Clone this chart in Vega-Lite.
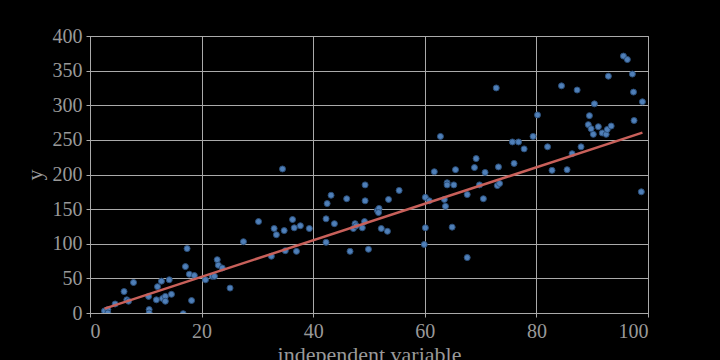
{
  "$schema": "https://vega.github.io/schema/vega-lite/v6.json",
  "width": 558,
  "height": 277,
  "autosize": {"type": "none"},
  "padding": {"left": 90, "top": 36, "right": 72, "bottom": 47},
  "background": "#000000",
  "config": {
    "view": {"stroke": "#aaaaaa", "strokeWidth": 1},
    "font": "Liberation Serif",
    "axis": {
      "labelFont": "Liberation Serif",
      "titleFont": "Liberation Serif",
      "labelFontSize": 20,
      "titleFontSize": 22,
      "labelColor": "#999999",
      "titleColor": "#999999",
      "titleFontWeight": "normal",
      "gridColor": "#aaaaaa",
      "gridWidth": 1,
      "domainColor": "#aaaaaa",
      "tickColor": "#aaaaaa",
      "tickSize": 4
    }
  },
  "datasets": {
    "pts": [
      {"x": 2.6, "y": 3}, {"x": 3.2, "y": 5}, {"x": 3.2, "y": 0}, {"x": 4.5, "y": 13},
      {"x": 6.1, "y": 31}, {"x": 6.6, "y": 19}, {"x": 6.9, "y": 17}, {"x": 7.8, "y": 44},
      {"x": 10.5, "y": 24}, {"x": 10.6, "y": 5}, {"x": 10.6, "y": 0}, {"x": 11.9, "y": 19},
      {"x": 12.1, "y": 38}, {"x": 12.8, "y": 46}, {"x": 13.0, "y": 21}, {"x": 13.5, "y": 24},
      {"x": 13.5, "y": 17}, {"x": 14.2, "y": 48}, {"x": 14.6, "y": 27}, {"x": 16.7, "y": -1},
      {"x": 17.1, "y": 67}, {"x": 17.4, "y": 93}, {"x": 17.8, "y": 56}, {"x": 18.2, "y": 18},
      {"x": 18.7, "y": 54}, {"x": 20.7, "y": 48}, {"x": 21.9, "y": 53}, {"x": 22.3, "y": 53},
      {"x": 22.8, "y": 77}, {"x": 23.0, "y": 69}, {"x": 23.7, "y": 65}, {"x": 25.1, "y": 36},
      {"x": 27.5, "y": 103}, {"x": 30.2, "y": 132}, {"x": 32.5, "y": 82}, {"x": 33.0, "y": 122},
      {"x": 33.4, "y": 113}, {"x": 34.5, "y": 208}, {"x": 34.8, "y": 119}, {"x": 35.0, "y": 90},
      {"x": 36.3, "y": 135}, {"x": 36.6, "y": 123}, {"x": 37.0, "y": 89}, {"x": 37.7, "y": 126},
      {"x": 39.3, "y": 122}, {"x": 42.3, "y": 136}, {"x": 42.3, "y": 102}, {"x": 42.5, "y": 158},
      {"x": 43.2, "y": 170}, {"x": 43.8, "y": 129}, {"x": 46.0, "y": 165}, {"x": 46.6, "y": 89},
      {"x": 47.2, "y": 122}, {"x": 47.5, "y": 129}, {"x": 47.7, "y": 126}, {"x": 48.8, "y": 123},
      {"x": 49.2, "y": 132}, {"x": 49.3, "y": 185}, {"x": 49.3, "y": 162}, {"x": 49.9, "y": 92},
      {"x": 51.5, "y": 148}, {"x": 51.8, "y": 151}, {"x": 51.7, "y": 145}, {"x": 52.2, "y": 122},
      {"x": 53.3, "y": 118}, {"x": 53.5, "y": 164}, {"x": 55.4, "y": 177}, {"x": 59.9, "y": 99},
      {"x": 60.1, "y": 123}, {"x": 60.1, "y": 167}, {"x": 60.8, "y": 162}, {"x": 61.7, "y": 204},
      {"x": 62.8, "y": 255}, {"x": 63.5, "y": 164}, {"x": 63.7, "y": 154}, {"x": 64.0, "y": 188},
      {"x": 64.0, "y": 185}, {"x": 64.9, "y": 124}, {"x": 65.2, "y": 185}, {"x": 65.5, "y": 207},
      {"x": 67.6, "y": 171}, {"x": 67.6, "y": 80}, {"x": 68.9, "y": 210}, {"x": 69.2, "y": 223},
      {"x": 69.8, "y": 185}, {"x": 70.5, "y": 165}, {"x": 70.8, "y": 203}, {"x": 72.8, "y": 325},
      {"x": 73.0, "y": 184}, {"x": 73.2, "y": 211}, {"x": 73.4, "y": 187}, {"x": 75.7, "y": 247},
      {"x": 76.0, "y": 216}, {"x": 76.8, "y": 247}, {"x": 77.8, "y": 237}, {"x": 79.4, "y": 255},
      {"x": 80.2, "y": 286}, {"x": 82.0, "y": 240}, {"x": 82.8, "y": 206}, {"x": 84.5, "y": 328},
      {"x": 85.5, "y": 207}, {"x": 86.4, "y": 230}, {"x": 87.3, "y": 322}, {"x": 88.0, "y": 240},
      {"x": 89.3, "y": 272}, {"x": 89.5, "y": 285}, {"x": 89.8, "y": 266}, {"x": 90.2, "y": 258},
      {"x": 90.4, "y": 302}, {"x": 91.1, "y": 269}, {"x": 91.8, "y": 260}, {"x": 92.5, "y": 258},
      {"x": 92.7, "y": 265}, {"x": 92.9, "y": 342}, {"x": 93.4, "y": 270}, {"x": 95.6, "y": 371},
      {"x": 96.3, "y": 366}, {"x": 97.2, "y": 345}, {"x": 97.4, "y": 319}, {"x": 97.5, "y": 278},
      {"x": 98.8, "y": 175}, {"x": 99.0, "y": 305}
    ],
    "fit": [
      {"x": 2.6, "y": 6.4},
      {"x": 99.0, "y": 260.5}
    ]
  },
  "encoding": {
    "x": {
      "field": "x", "type": "quantitative",
      "scale": {"domain": [0, 100], "nice": false, "zero": true},
      "axis": {"title": "independent variable", "tickCount": 5, "labelPadding": 4, "titlePadding": 3}
    },
    "y": {
      "field": "y", "type": "quantitative",
      "scale": {"domain": [0, 400], "nice": false},
      "axis": {"title": "y", "tickCount": 8, "labelPadding": 4, "titlePadding": 6}
    }
  },
  "layer": [
    {
      "data": {"name": "pts"},
      "mark": {"type": "point", "filled": true, "size": 36, "fill": "#4f7fb8", "stroke": "#2b4f7a", "strokeWidth": 1, "opacity": 1, "fillOpacity": 1, "clip": true}
    },
    {
      "data": {"name": "fit"},
      "mark": {"type": "line", "color": "#c8605a", "strokeWidth": 2.5, "clip": true}
    }
  ]
}
